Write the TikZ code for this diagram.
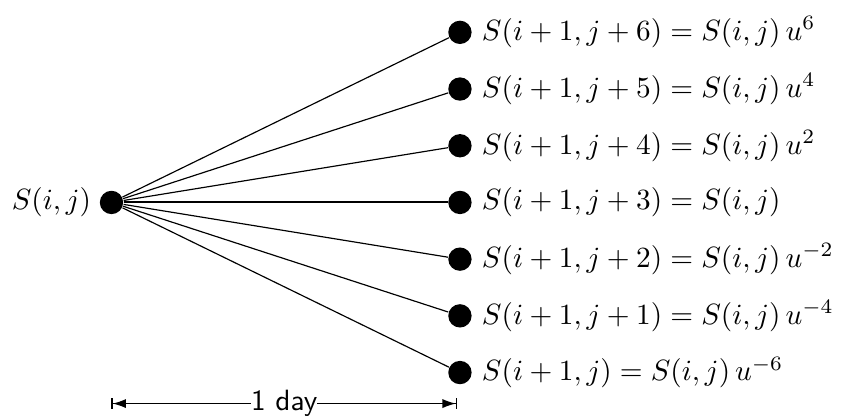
\documentclass[tikz,border=0pt]{standalone}
\usepackage{amsmath}
\usepackage{tikz}
\usetikzlibrary{arrows.meta}

\begin{document}
\begin{tikzpicture}[dot/.style={circle, fill=black, inner sep=0pt, minimum size=2.8mm}]
    \useasboundingbox (0,0) rectangle (10.29,5.03);
    \node[dot, label={[inner sep=0pt, label distance=0.9mm]left:{$S(i,j)$}}] (s0) at (1.337,2.602) {};

    \foreach \k/\y/\w/\lab in {6/4.642/0.4pt/{$S(i+1,j+6) = S(i,j)\,u^{6}$},
                              5/3.962/0.4pt/{$S(i+1,j+5) = S(i,j)\,u^{4}$},
                              4/3.282/0.4pt/{$S(i+1,j+4) = S(i,j)\,u^{2}$},
                              3/2.602/0.7pt/{$S(i+1,j+3) = S(i,j)$},
                              2/1.922/0.4pt/{$S(i+1,j+2) = S(i,j)\,u^{-2}$},
                              1/1.242/0.4pt/{$S(i+1,j+1) = S(i,j)\,u^{-4}$},
                              0/0.562/0.4pt/{$S(i+1,j) = S(i,j)\,u^{-6}$}}{
        \node[dot, label={[inner sep=0pt, label distance=1.1mm]right:{\lab}}] (n\k) at (5.516,\y) {};
        \draw[line width=\w] (s0) -- (n\k);
    }

    \coordinate (dayL) at (1.337,0.19);
    \coordinate (dayR) at (5.48,0.19);
    \draw[{Bar[width=1.3mm]Latex[length=1.6mm,width=1.1mm]}-{Latex[length=1.6mm,width=1.1mm]Bar[width=1.3mm]}] (dayL) -- node[fill=white, inner sep=0pt, font=\sffamily] {1 day} (dayR);
\end{tikzpicture}
\end{document}
